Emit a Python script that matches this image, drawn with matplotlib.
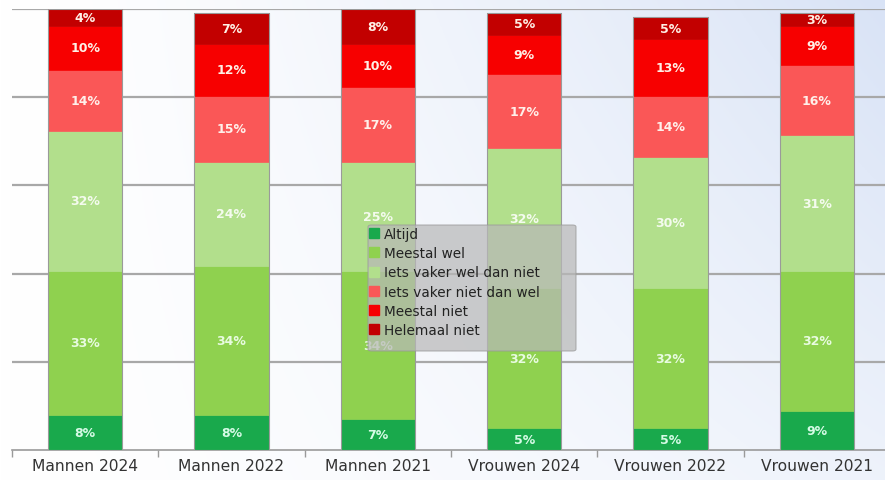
import numpy as np
import matplotlib
matplotlib.use("Agg")
import matplotlib.pyplot as plt
from matplotlib.patches import Patch, FancyBboxPatch

categories = ["Mannen 2024", "Mannen 2022", "Mannen 2021",
              "Vrouwen 2024", "Vrouwen 2022", "Vrouwen 2021"]
series_names = ["Altijd", "Meestal wel", "Iets vaker wel dan niet",
                "Iets vaker niet dan wel", "Meestal niet", "Helemaal niet"]
altijd = [8, 8, 7, 5, 5, 9]
meestal_wel = [33, 34, 34, 32, 32, 32]
iets_wel = [32, 24, 25, 32, 30, 31]
iets_niet = [14, 15, 17, 17, 14, 16]
meestal_niet = [10, 12, 10, 9, 13, 9]
helemaal_niet = [4, 7, 8, 5, 5, 3]

series = [altijd, meestal_wel, iets_wel, iets_niet, meestal_niet, helemaal_niet]
colors = ["#19a94c", "#8fd14f", "#b2df8c", "#fa5757", "#f70000", "#c20000"]
label_colors = ["#d6fbe6", "#e8fbe0", "#f4fbee", "#fff0ea", "#fff0e6", "#fff0e6"]

W, H = 885, 481
fig = plt.figure(figsize=(W / 100, H / 100), dpi=100)

# soft white-to-blue background wash, strongest towards the top right
bg = fig.add_axes([0, 0, 1, 1], zorder=0)
gx, gy = np.meshgrid(np.linspace(0, 1, 300), np.linspace(0, 1, 200))
# gy = 0 is the top row (origin="upper")
t = np.clip(gx ** 1.3 * (0.45 + 0.55 * (1 - gy)), 0, 1)
white = np.array([1.0, 1.0, 1.0])
blue = np.array([0.85, 0.89, 0.965])
img = white[None, None, :] * (1 - t[..., None]) + blue[None, None, :] * t[..., None]
bg.imshow(img, aspect="auto", extent=[0, 1, 0, 1], origin="upper")
bg.set_xlim(0, 1)
bg.set_ylim(0, 1)
bg.axis("off")

left, right = 12 / W, 890 / W
bottom, top = 1 - 451 / H, 1 - 10 / H
ax = fig.add_axes([left, bottom, right - left, top - bottom], zorder=1)
ax.patch.set_alpha(0)

ymax = 100.9
x = np.arange(len(categories))
base = np.zeros(len(categories))
bar_w = 0.51
for vals, col, lc in zip(series, colors, label_colors):
    vals = np.array(vals, dtype=float)
    ax.bar(x, vals, bar_w, bottom=base, color=col, edgecolor=col,
           linewidth=0.5, zorder=3)
    for xi, b, v in zip(x, base, vals):
        ax.text(xi, b + v / 2, f"{int(v)}%", ha="center", va="center",
                fontsize=9, fontweight="bold", color=lc, zorder=5)
    base += vals

# thin outline around each full stack
ax.bar(x, base, bar_w, bottom=0, facecolor="none", edgecolor="#9a9a9a",
       linewidth=0.8, zorder=4)

ax.set_xlim(-0.5, len(categories) - 0.5)
ax.set_ylim(0, ymax)
for gyv in np.linspace(0, ymax, 6)[1:]:
    ax.axhline(gyv, color="#a8a8a8", linewidth=1.6, zorder=1)

ax.set_xticks(x)
ax.set_xticklabels(categories, fontsize=11.2, color="#333333")
ax.tick_params(axis="x", which="major", length=0, pad=6)
ax.set_xticks(np.arange(-0.5, len(categories), 1.0), minor=True)
ax.tick_params(axis="x", which="minor", length=5, color="#9a9a9a", width=1)
ax.set_yticks([])
for s in ["left", "right", "top"]:
    ax.spines[s].set_visible(False)
ax.spines["bottom"].set_color("#9a9a9a")
ax.spines["bottom"].set_linewidth(1.2)

# legend panel: translucent grey box with the entries inside
lx0, ly0, lx1, ly1 = 368, 226, 576, 352
panel = FancyBboxPatch((lx0 / W, 1 - ly1 / H), (lx1 - lx0) / W, (ly1 - ly0) / H,
                       boxstyle="round,pad=0,rounding_size=0.004",
                       transform=fig.transFigure, facecolor="#b8b8b8",
                       alpha=0.72, edgecolor="#999999", linewidth=0.8,
                       zorder=9)
fig.add_artist(panel)

handles = [Patch(facecolor=c, edgecolor=c) for c in colors]
leg = fig.legend(handles, series_names, loc="upper left",
                 bbox_to_anchor=(369 / W, 1 - 228 / H),
                 fontsize=9.8, frameon=False,
                 handlelength=0.75, handleheight=0.75, handletextpad=0.35,
                 labelspacing=0.38, borderpad=0.0, borderaxespad=0)
leg.set_zorder(10)
for txt in leg.get_texts():
    txt.set_color("#222222")

fig.savefig("out.png", dpi=100)
